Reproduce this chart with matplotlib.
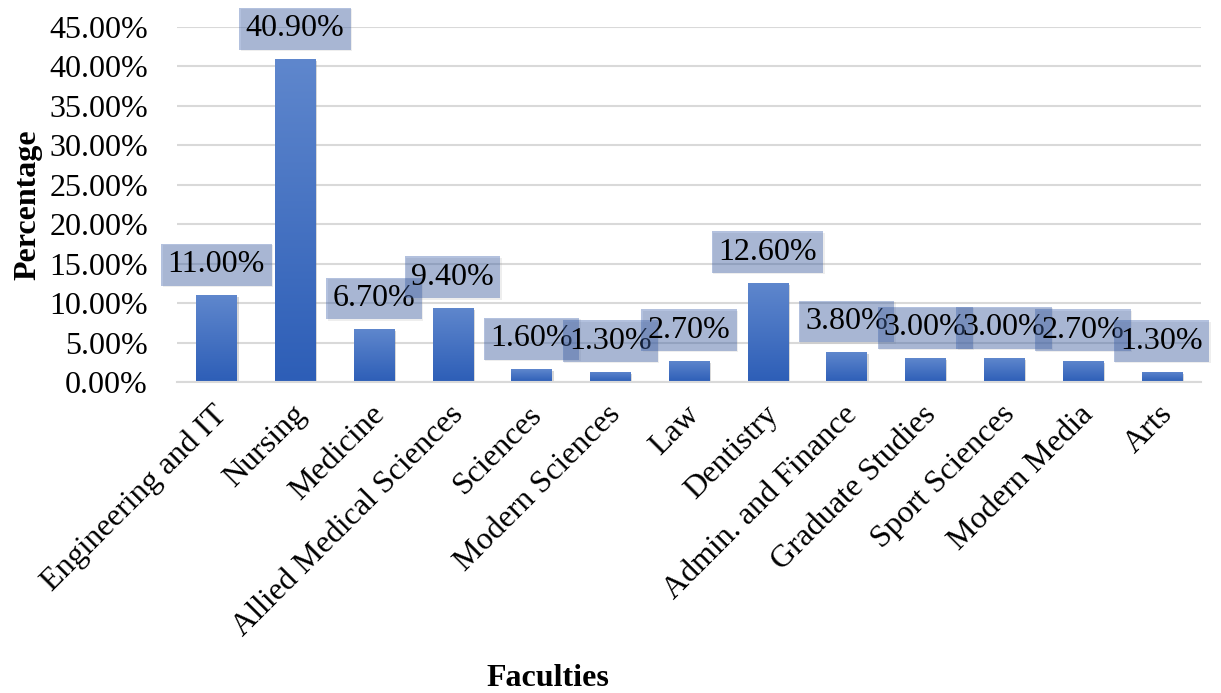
import numpy as np
import matplotlib
matplotlib.use('Agg')
import matplotlib.pyplot as plt
import matplotlib.patheffects as pe
from matplotlib.colors import LinearSegmentedColormap
from matplotlib.ticker import FuncFormatter, MultipleLocator
from matplotlib.transforms import ScaledTranslation

# ---- data --------------------------------------------------------------------
faculties = ['Engineering and IT', 'Nursing', 'Medicine', 'Allied Medical Sciences',
             'Sciences', 'Modern Sciences', 'Law', 'Dentistry', 'Admin. and Finance',
             'Graduate Studies', 'Sport Sciences', 'Modern Media', 'Arts']
share_pct = [11.0, 40.9, 6.7, 9.4, 1.6, 1.3, 2.7, 12.6, 3.8, 3.0, 3.0, 2.7, 1.3]

# ---- style -------------------------------------------------------------------
plt.rcParams['font.family'] = ['Liberation Serif', 'DejaVu Serif']
fs = 23
grid_c = '#d9d9d9'
bar_grad = LinearSegmentedColormap.from_list('bar', ['#2d5eb7', '#5f87cd'])

fig = plt.figure(figsize=(12.21, 6.93), dpi=100)
ax = fig.add_axes([0.145, 0.4488, 0.8386, 0.5122])

x = np.arange(len(faculties))
bars = ax.bar(x, share_pct, width=0.51, color='#3a6bc2', zorder=2,
              path_effects=[pe.SimplePatchShadow(offset=(1.5, -1.5), shadow_rgbFace='#808080', alpha=0.3),
                            pe.Normal()])

# vertical gradient on each bar, clipped to the bar rectangle
grad = np.linspace(0, 1, 256).reshape(-1, 1)
for b in bars:
    im = ax.imshow(grad, cmap=bar_grad, origin='lower', aspect='auto', zorder=2.1,
                   extent=(b.get_x(), b.get_x() + b.get_width(), 0, b.get_height()))
    im.set_clip_path(b)

# value labels in translucent boxes
for xi, v in zip(x, share_pct):
    ax.annotate(f'{v:.2f}%', (xi, v), xytext=(0, 22), textcoords='offset points',
                ha='center', va='center', fontsize=fs, color='black', zorder=4,
                bbox=dict(boxstyle='square,pad=0.2', fc=(45/255, 85/255, 165/255, 0.36), ec='none',
                          path_effects=[pe.SimplePatchShadow(offset=(1, -1), shadow_rgbFace='#909090', alpha=0.15),
                                        pe.Normal()]))

ax.set_xlim(-0.5, len(faculties) - 0.5)
ax.set_ylim(0, 45)
ax.yaxis.set_major_locator(MultipleLocator(5))
ax.yaxis.set_major_formatter(FuncFormatter(lambda v, _: f'{v:.2f}%'))
ax.grid(axis='y', color=grid_c, lw=1.5, zorder=0)
ax.set_axisbelow(True)
for s in ['top', 'right', 'left']:
    ax.spines[s].set_visible(False)
ax.spines['bottom'].set_color(grid_c)
ax.spines['bottom'].set_linewidth(1.5)
ax.tick_params(axis='y', length=0, pad=21, labelsize=fs)
ax.tick_params(axis='x', length=0, pad=13, labelsize=fs)

ax.set_xticks(x)
ax.set_xticklabels(faculties, rotation=45, ha='right', va='top', rotation_mode='anchor')
shift = ScaledTranslation(-0.04, 0, fig.dpi_scale_trans)
for lbl in ax.get_xticklabels():
    lbl.set_transform(lbl.get_transform() + shift)

fig.text(0.023, 0.705, 'Percentage', rotation=90, ha='center', va='center',
         fontsize=fs, fontweight='bold')
fig.text(0.449, 0.0216, 'Faculties', ha='center', va='center',
         fontsize=fs, fontweight='bold')

fig.savefig('out.png', dpi=100)
